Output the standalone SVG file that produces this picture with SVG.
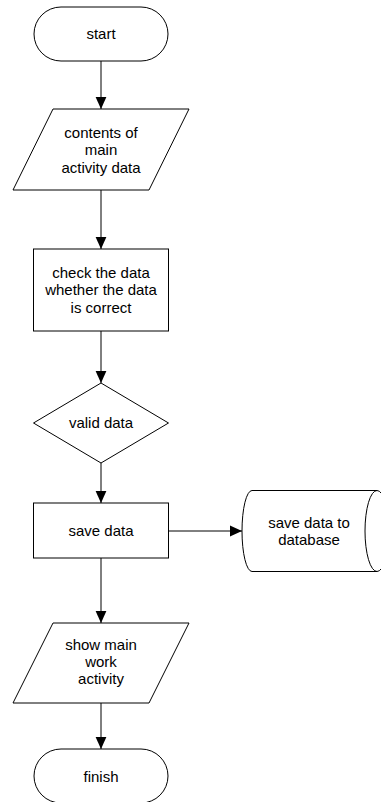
<svg xmlns="http://www.w3.org/2000/svg" width="381" height="802" viewBox="0 0 381 802">
<style>
.s{fill:#fff;stroke:#000;stroke-width:1}
.c{fill:none;stroke:#000;stroke-width:1}
text{font-family:"Liberation Sans",Arial,sans-serif;font-size:15px;fill:#000;text-anchor:middle}
</style>
<defs>
<marker id="ah" markerUnits="userSpaceOnUse" markerWidth="12" markerHeight="12" viewBox="0 0 10 10" refX="10" refY="5" orient="auto">
<path d="M0,0.5 L10,5 L0,9.5 Z" fill="#000"/>
</marker>
</defs>
<g id="connectors">
<line class="c" x1="101" y1="61" x2="101" y2="109" marker-end="url(#ah)"/>
<line class="c" x1="101" y1="190" x2="101" y2="249" marker-end="url(#ah)"/>
<line class="c" x1="101" y1="331" x2="101" y2="383" marker-end="url(#ah)"/>
<line class="c" x1="101" y1="463" x2="101" y2="503" marker-end="url(#ah)"/>
<line class="c" x1="168" y1="531" x2="242" y2="531" marker-end="url(#ah)"/>
<line class="c" x1="101" y1="558" x2="101" y2="623" marker-end="url(#ah)"/>
<line class="c" x1="101" y1="703" x2="101" y2="749" marker-end="url(#ah)"/>
</g>
<g id="start">
<rect class="s" x="34" y="7" width="134" height="54" rx="27" ry="27"/>
<text x="101" y="38.5">start</text>
</g>
<g id="contents">
<polygon class="s" points="53,109 189,109 149,190 13,190"/>
<text x="101" y="137.5">contents of</text>
<text x="101" y="155">main</text>
<text x="101" y="172.5">activity data</text>
</g>
<g id="check">
<rect class="s" x="33.5" y="249" width="135" height="82"/>
<text x="101" y="277.5">check the data</text>
<text x="101" y="295">whether the data</text>
<text x="101" y="312.5">is correct</text>
</g>
<g id="valid">
<polygon class="s" points="101,383 168.5,423 101,463 33.5,423"/>
<text x="101" y="428">valid data</text>
</g>
<g id="save">
<rect class="s" x="33.5" y="503" width="135" height="55"/>
<text x="101" y="536">save data</text>
</g>
<g id="database">
<path class="s" d="M252,490.5 L377,490.5 A12,40.5 0 0 1 377,571.5 L252,571.5 A10,40.5 0 0 1 252,490.5 Z"/>
<path class="c" d="M377,490.5 A12,40.5 0 0 0 377,571.5"/>
<text x="309" y="527.5">save data to</text>
<text x="309" y="544.5">database</text>
</g>
<g id="show">
<polygon class="s" points="53,623 189,623 149,703 13,703"/>
<text x="101" y="649.5">show main</text>
<text x="101" y="667">work</text>
<text x="101" y="684">activity</text>
</g>
<g id="finish">
<rect class="s" x="34" y="749" width="134" height="54" rx="27" ry="27"/>
<text x="101" y="781.5">finish</text>
</g>
</svg>
